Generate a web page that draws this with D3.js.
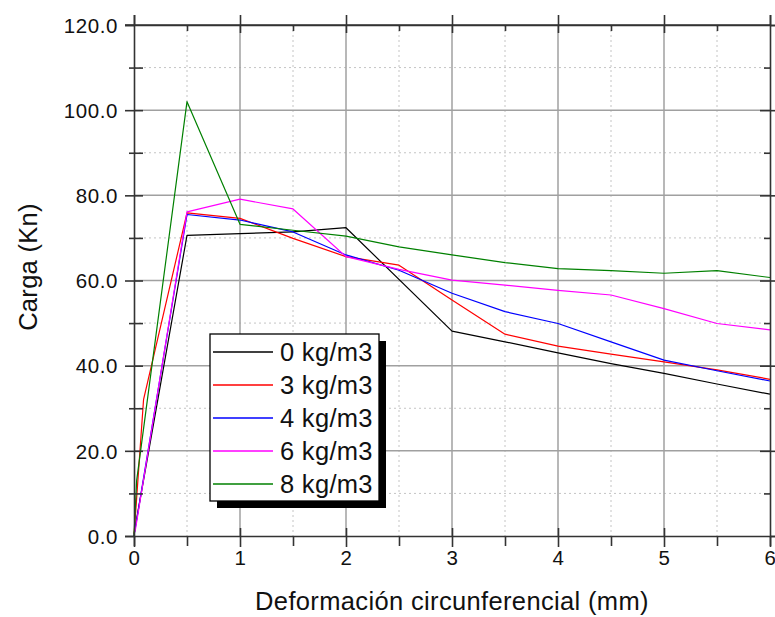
<!DOCTYPE html>
<html><head><meta charset="utf-8">
<script src="https://cdn.jsdelivr.net/npm/d3@7"></script>
<style>
html,body{margin:0;padding:0;background:#fff;}
svg{display:block;font-family:Arial,"Liberation Sans",sans-serif;}
</style></head>
<body>
<svg id="chart" width="775" height="617"></svg>
<script>
// ---- data ----
const seriesNames = ["0 kg/m3", "3 kg/m3", "4 kg/m3", "6 kg/m3", "8 kg/m3"];
const seriesColors = ["#000000", "#ff0000", "#0000ff", "#ff00ff", "#008000"];

const x0 = [0, 0.5, 1, 1.5, 2, 3, 3.5, 4, 4.5, 5, 5.5, 6];
const y0 = [0.5, 70.6, 71.0, 71.4, 72.4, 48.1, 45.6, 43.0, 40.5, 38.2, 35.7, 33.3];

const x3 = [0, 0.09, 0.5, 1, 1.5, 2, 2.5, 3, 3.5, 4, 4.5, 5, 5.5, 6];
const y3 = [0, 32.0, 75.9, 74.6, 69.9, 65.6, 63.6, 55.4, 47.4, 44.6, 42.7, 40.9, 39.0, 36.8];

const x4 = [0, 0.5, 1, 1.5, 2, 2.5, 3, 3.5, 4, 4.5, 5, 5.5, 6];
const y4 = [0, 75.5, 74.2, 71.4, 66.0, 62.4, 57.0, 52.7, 49.9, 45.6, 41.3, 38.8, 36.4];

const x6 = [0.01, 0.5, 1, 1.5, 2, 2.5, 3, 3.5, 4, 4.5, 5, 5.5, 6];
const y6 = [1.0, 76.1, 79.1, 76.8, 65.6, 62.6, 60.1, 58.9, 57.7, 56.6, 53.4, 49.9, 48.4];

const x8 = [0, 0.025, 0.5, 1, 1.5, 2, 2.5, 3, 3.5, 4, 4.5, 5, 5.5, 6];
const y8 = [0, 13.0, 102.0, 73.2, 71.8, 70.4, 67.9, 66.0, 64.2, 62.8, 62.3, 61.7, 62.3, 60.7];

const xTicks = [0, 1, 2, 3, 4, 5, 6];
const yTicks = [0, 20, 40, 60, 80, 100, 120];
const xMinor = [0.5, 1.5, 2.5, 3.5, 4.5, 5.5];
const yMinor = [10, 30, 50, 70, 90, 110];
const xTitle = "Deformación circunferencial (mm)";
const yTitle = "Carga (Kn)";

// ---- layout ----
const svg = d3.select("#chart");
const L = 134, R = 770, T = 25, B = 536;
const x = d3.scaleLinear().domain([0, 6]).range([L, R]);
const y = d3.scaleLinear().domain([0, 120]).range([B, T]);

// grid
const g = svg.append("g");
g.selectAll(".vminor").data(xMinor).join("line")
  .attr("x1", d => x(d)).attr("x2", d => x(d)).attr("y1", T).attr("y2", B)
  .attr("stroke", "#c4c4c4").attr("stroke-width", 1).attr("stroke-dasharray", "2,3");
g.selectAll(".hminor").data(yMinor).join("line")
  .attr("y1", d => y(d)).attr("y2", d => y(d)).attr("x1", L).attr("x2", R)
  .attr("stroke", "#c4c4c4").attr("stroke-width", 1).attr("stroke-dasharray", "2,3");
g.selectAll(".vmajor").data(xTicks.slice(1, -1)).join("line")
  .attr("x1", d => x(d)).attr("x2", d => x(d)).attr("y1", T).attr("y2", B)
  .attr("stroke", "#a0a0a0").attr("stroke-width", 1.5);
g.selectAll(".hmajor").data(yTicks.slice(1, -1)).join("line")
  .attr("y1", d => y(d)).attr("y2", d => y(d)).attr("x1", L).attr("x2", R)
  .attr("stroke", "#a0a0a0").attr("stroke-width", 1.5);

// series
const series = [[x0, y0], [x3, y3], [x4, y4], [x6, y6], [x8, y8]];
const line = d3.line().x(d => x(d[0])).y(d => y(d[1]));
series.forEach((s, i) => {
  const pts = s[0].map((v, j) => [v, s[1][j]]);
  svg.append("path").datum(pts).attr("d", line)
    .attr("fill", "none").attr("stroke", seriesColors[i]).attr("stroke-width", 1.2)
    .attr("stroke-linejoin", "round");
});

// axes (bottom, left, top, right) using d3 axes
const axCol = "#333";
function styleAxis(sel) {
  sel.select(".domain").attr("stroke", axCol).attr("stroke-width", 1.6);
  sel.selectAll(".tick line").attr("stroke", axCol).attr("stroke-width", 1.6);
}
// bottom major (crossing)
const bx = svg.append("g").attr("transform", `translate(0,${B})`)
  .call(d3.axisBottom(x).tickValues(xTicks).tickSize(10).tickPadding(8).tickFormat(d3.format("d")));
styleAxis(bx);
bx.selectAll(".tick line").attr("y1", -8).attr("y2", 11);
bx.selectAll(".tick text").attr("font-size", "20.5px").attr("fill", "#111")
  .attr("letter-spacing", "0.5px").attr("font-family", "Arial, 'Liberation Sans', sans-serif")
  .attr("dy", null).attr("y", 29);
bx.selectAll(".tick").filter(d => d === 6).select("line").attr("y1", 0);
bx.selectAll(".tick").filter(d => d === 0).select("line").attr("y1", 0);
// bottom minor
const bxm = svg.append("g").attr("transform", `translate(0,${B})`)
  .call(d3.axisBottom(x).tickValues(xMinor).tickSize(10).tickFormat(""));
styleAxis(bxm);
bxm.select(".domain").remove();
bxm.selectAll(".tick line").attr("y1", 0).attr("y2", 10);

// left major
const ly = svg.append("g").attr("transform", `translate(${L},0)`)
  .call(d3.axisLeft(y).tickValues(yTicks).tickSize(9).tickPadding(9).tickFormat(d3.format(".1f")));
styleAxis(ly);
ly.selectAll(".tick line").attr("x1", 9).attr("x2", -9);
ly.selectAll(".tick").filter(d => d === 0 || d === 120).select("line").attr("x1", 0);
ly.selectAll(".tick text").attr("font-size", "20.5px").attr("fill", "#111")
  .attr("letter-spacing", "0.6px").attr("font-family", "Arial, 'Liberation Sans', sans-serif")
  .attr("x", -16).attr("dy", "0.35em");
// left minor
const lym = svg.append("g").attr("transform", `translate(${L},0)`)
  .call(d3.axisLeft(y).tickValues(yMinor).tickSize(5).tickFormat(""));
styleAxis(lym);
lym.select(".domain").remove();
lym.selectAll(".tick line").attr("x1", 9).attr("x2", -5);

// top
const tx = svg.append("g").attr("transform", `translate(0,${T})`)
  .call(d3.axisTop(x).tickValues(xTicks).tickSize(10).tickFormat(""));
styleAxis(tx);
tx.selectAll(".tick line").attr("y1", 8).attr("y2", -10);
tx.selectAll(".tick").filter(d => d === 0 || d === 6).select("line").attr("y1", 0);
const txm = svg.append("g").attr("transform", `translate(0,${T})`)
  .call(d3.axisTop(x).tickValues(xMinor).tickSize(5).tickFormat(""));
styleAxis(txm);
txm.select(".domain").remove();
txm.selectAll(".tick line").attr("y1", 0).attr("y2", 6);
svg.append("line").attr("x1", L - 9).attr("x2", R).attr("y1", T).attr("y2", T)
  .attr("stroke", axCol).attr("stroke-width", 1.6);

// right
const ry = svg.append("g").attr("transform", `translate(${R},0)`)
  .call(d3.axisRight(y).tickValues(yTicks).tickSize(6).tickFormat(""));
styleAxis(ry);
ry.selectAll(".tick line").attr("x1", -10).attr("x2", 6);
ry.selectAll(".tick").filter(d => d === 0 || d === 120).select("line").attr("x1", 0);
const rym = svg.append("g").attr("transform", `translate(${R},0)`)
  .call(d3.axisRight(y).tickValues(yMinor).tickSize(5).tickFormat(""));
styleAxis(rym);
rym.select(".domain").remove();
rym.selectAll(".tick line").attr("x1", -6).attr("x2", 0);

// titles
svg.append("text").attr("x", (L + R) / 2 + 0).attr("y", 610).attr("text-anchor", "middle")
  .attr("font-size", "25.5px").attr("letter-spacing", "0.35px").attr("fill", "#111").text(xTitle);
svg.append("text").attr("transform", `translate(37,${267}) rotate(-90)`).attr("text-anchor", "middle")
  .attr("font-size", "25.5px").attr("letter-spacing", "0.3px").attr("fill", "#111").text(yTitle);

// legend
const lgX = 210, lgY = 334, lgW = 169, lgH = 167;
const lg = svg.append("g");
lg.append("rect").attr("x", lgX + 7).attr("y", lgY + 7).attr("width", lgW).attr("height", lgH).attr("fill", "#000");
lg.append("rect").attr("x", lgX).attr("y", lgY).attr("width", lgW).attr("height", lgH)
  .attr("fill", "#fff").attr("stroke", "#000").attr("stroke-width", 1.3);
const rows = lg.selectAll(".row").data(seriesNames).join("g")
  .attr("transform", (d, i) => `translate(0,${lgY + 18 + i * 33})`);
rows.append("line").attr("x1", lgX + 3).attr("x2", lgX + 63).attr("y1", 0).attr("y2", 0)
  .attr("stroke", (d, i) => seriesColors[i]).attr("stroke-width", 1.3);
rows.append("text").attr("x", lgX + 70).attr("y", 9).attr("font-size", "25.5px")
  .attr("letter-spacing", "0.3px").attr("fill", "#111").text(d => d);
</script>
</body></html>
